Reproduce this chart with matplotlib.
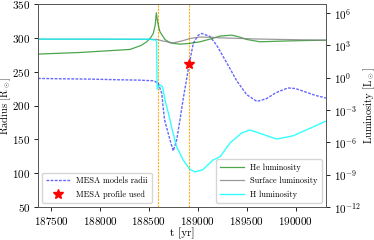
import numpy as np
import matplotlib
matplotlib.use("Agg")
import matplotlib.pyplot as plt
from matplotlib.lines import Line2D

plt.rcParams['font.family'] = 'serif'
plt.rcParams['font.serif'] = ['cmr10', 'DejaVu Serif']
plt.rcParams['mathtext.fontset'] = 'cm'
plt.rcParams['axes.formatter.use_mathtext'] = True

# Radius (MESA models radii)
t_rad = [187367, 187600, 187900, 188200, 188400, 188550, 188596, 188631, 188660,
         188716, 188749, 188784, 188818, 188851, 188913, 188954, 189005, 189040,
         189124, 189193, 189300, 189400, 189500, 189604, 189700, 189800, 189921,
         190000, 190100, 190200, 190310]
radius = [240, 239.5, 239, 238, 237.5, 236.5, 233, 218, 179,
          149, 133, 149, 179, 210, 262, 292, 304, 306.5,
          302, 289, 262, 236, 216, 206, 210, 219, 226,
          225, 220, 215, 211]

# Profile used
t_star = [188913]
r_star = [262]

# H luminosity (log10 L)
t_h = [187367, 188000, 188500, 188560, 188578, 188585, 188600, 188620, 188640,
       188665, 188700, 188740, 188784, 188851, 188920, 188970, 189050, 189155,
       189227, 189329, 189448, 189533, 189635, 189806, 189976, 190147, 190310]
logL_h = [3.59, 3.59, 3.58, 3.52, 3.40, -1.05, -0.75, -0.69, -0.85,
          -2.08, -3.3, -4.9, -6.41, -7.65, -8.51, -8.73, -8.55, -7.64,
          -7.34, -6.06, -5.13, -4.85, -5.16, -5.69, -5.38, -4.69, -4.02]

# He luminosity
t_he = [187367, 187800, 188307, 188420, 188478, 188520, 188545, 188565, 188576,
        188586, 188596, 188613, 188664, 188716, 188818, 188913, 189022, 189124,
        189227, 189346, 189420, 189499, 189635, 189840, 190050, 190310]
logL_he = [2.20, 2.35, 2.63, 3.0, 3.34, 3.75, 4.12, 4.9, 6.03,
           5.4, 4.89, 4.27, 3.56, 3.24, 3.12, 3.19, 3.34, 3.59,
           3.87, 3.96, 3.80, 3.56, 3.34, 3.40, 3.45, 3.49]

# Surface luminosity
t_s = [187367, 188000, 188500, 188580, 188650, 188749, 188850, 188920, 189022,
       189130, 189227, 189400, 189600, 189840, 190100, 190310]
logL_s = [3.58, 3.58, 3.57, 3.56, 3.40, 3.24, 3.45, 3.65, 3.78,
          3.76, 3.71, 3.66, 3.60, 3.56, 3.52, 3.49]

vlines_t = [188596, 188913]

fig = plt.figure(figsize=(3.74, 2.40), dpi=100)
ax = fig.add_axes([38/374, 1-207/240, (326-38)/374, (207-4)/240])
ax2 = ax.twinx()

fs = 8
for tv in vlines_t:
    ax.axvline(tv, color='orange', ls=(0, (2, 1)), lw=0.8, alpha=0.9)

ax.plot(t_rad, radius, color='blue', alpha=0.6, ls=(0, (2, 1)), lw=1.0)
ax.plot(t_star, r_star, ls='none', marker='*', color='red', ms=7)

ax2.plot(t_he, 10**np.array(logL_he), color='green', alpha=0.7, lw=0.9)
ax2.plot(t_s, 10**np.array(logL_s), color='gray', alpha=0.8, lw=0.9)
ax2.plot(t_h, 10**np.array(logL_h), color='cyan', alpha=0.8, lw=1.0)

ax.set_xlim(187367, 190310)
ax.set_ylim(50, 350)
ax.set_xticks([187500, 188000, 188500, 189000, 189500, 190000])
ax.set_yticks([50, 100, 150, 200, 250, 300, 350])
ax.ticklabel_format(axis='x', style='plain', useOffset=False)
ax.tick_params(labelsize=fs, length=3, width=0.6, pad=2.5)
ax.set_xlabel('t [yr]', fontsize=fs, labelpad=1)
ax.set_ylabel(r'Radius [R$_\odot$]', fontsize=7.5)
ax.yaxis.set_label_coords(-0.088, 0.5)

ax2.set_yscale('log')
ax2.set_ylim(1e-12, 10**6.85)
ax2.set_yticks([1e-12, 1e-9, 1e-6, 1e-3, 1e0, 1e3, 1e6])
ax2.yaxis.set_minor_locator(matplotlib.ticker.NullLocator())
ax2.tick_params(labelsize=fs, length=3, width=0.6, pad=2.5)
ax2.set_ylabel(r'Luminosity [L$_\odot$]', fontsize=7.5)
ax2.yaxis.set_label_coords(1.122, 0.5)

for a in (ax, ax2):
    for s in a.spines.values():
        s.set_linewidth(0.6)
        s.set_color('#555555')

h1 = [Line2D([], [], color='blue', alpha=0.6, ls=(0, (2, 1)), lw=1.0),
      Line2D([], [], ls='none', marker='*', color='red', ms=7)]
ax.legend(h1, ['MESA models radii', 'MESA profile used'], loc='lower left',
          fontsize=6, handlelength=2.8, borderpad=0.5, labelspacing=0.6)
h2 = [Line2D([], [], color='green', alpha=0.7, lw=0.9),
      Line2D([], [], color='gray', alpha=0.8, lw=0.9),
      Line2D([], [], color='cyan', alpha=0.8, lw=1.0)]
ax2.legend(h2, ['He luminosity', 'Surface luminosity', 'H luminosity'], loc='lower right',
           fontsize=6, handlelength=2.8, borderpad=0.5, labelspacing=0.6)

fig.savefig('out.png', dpi=100)
